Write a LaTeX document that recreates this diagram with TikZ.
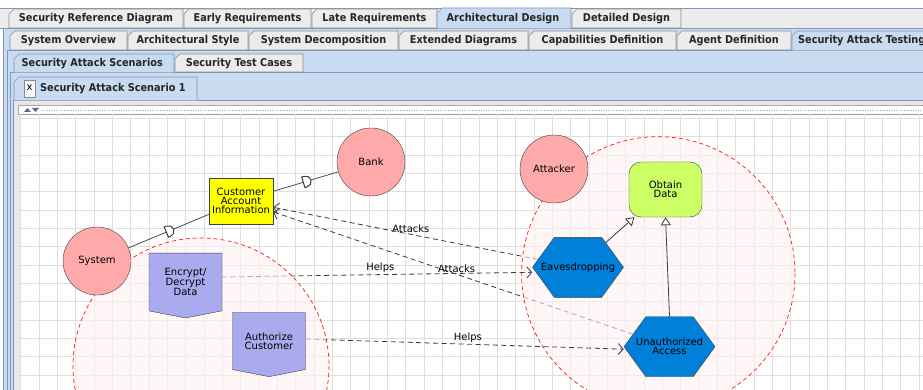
\documentclass[tikz,border=0pt]{standalone}
\usepackage{fontspec}
\setmainfont{DejaVu Sans}
\newfontfamily\tabfont{DejaVu Sans Condensed Bold}
\usetikzlibrary{arrows.meta,shapes.symbols,decorations.markings}

\definecolor{actorpink}{RGB}{255,170,170}
\definecolor{resyellow}{RGB}{255,255,0}
\definecolor{planpurple}{RGB}{170,170,238}
\definecolor{goalgreen}{RGB}{204,255,102}
\definecolor{attackblue}{RGB}{0,128,216}
\definecolor{panelblue}{RGB}{200,219,240}
\definecolor{panelline}{RGB}{128,150,188}
\definecolor{tabgrey}{RGB}{236,236,236}
\definecolor{framegrey}{RGB}{232,232,232}
\definecolor{gridgrey}{RGB}{222,222,222}
\definecolor{linkgrey}{RGB}{60,60,60}

\tikzset{
  tabedge/.style={draw=black!45, line width=0.6pt},
  tablabel/.style={font=\tabfont\fontsize{10.8}{12}\selectfont, text=black!85, text height=7.8pt, text depth=2pt, inner sep=0pt},
  panel/.style={draw=panelline, line width=0.6pt, fill=panelblue},
  gridline/.style={draw=gridgrey, line width=0.7pt},
  actor/.style={circle, draw=black!75, fill=actorpink, minimum size=68pt, inner sep=0pt},
  resource/.style={rectangle, draw=black!75, fill=resyellow, minimum width=64pt, minimum height=46pt, inner sep=1pt, align=center},
  plan/.style={signal, signal to=south, signal from=nowhere, signal pointer angle=158, draw=black!75, fill=planpurple, minimum width=73pt, minimum height=62pt, inner sep=1pt, align=center},
  goal/.style={rectangle, rounded corners=12pt, draw=black!75, fill=goalgreen, minimum width=73pt, minimum height=55pt, align=center},
  attack/.style={signal, signal to=west and east, signal pointer angle=108, draw=black!75, fill=attackblue, minimum width=91pt, minimum height=60pt, inner xsep=-14pt, inner ysep=1pt, align=center},
  boundary/.style={draw=red!90, line width=0.7pt, dash pattern=on 4pt off 3pt, fill=red!5, fill opacity=0.6},
  depend/.style={draw=linkgrey, line width=0.7pt, postaction={decorate},
    decoration={markings, mark=at position 0.5 with {\draw[fill=white, line width=1pt] (-2.5,-5.5) -- (0,-5.5) arc[start angle=-90, end angle=90, radius=5.5] -- (-2.5,5.5) -- cycle;}}},
  link/.style={draw=linkgrey, line width=0.8pt, dash pattern=on 5pt off 3.5pt, -{Straight Barb[length=5pt, width=11pt]}},
  isa/.style={draw=linkgrey, line width=0.8pt, -{Triangle[fill=white, length=8pt, width=10pt]}},
  linklabel/.style={above, inner sep=1.5pt, text=black}
}

\begin{document}
\begin{tikzpicture}[x=1pt, y=-1pt, font=\fontsize{10}{9}\selectfont]
  \useasboundingbox (0,0) rectangle (923,390);
  \clip (0,0) rectangle (923,390);
  \fill[white] (0,0) rectangle (923,390);
  \draw[fill=tabgrey, draw=panelline] (-5,8) rectangle (930,28);
  \draw[panel] (3,28) rectangle (930,395);
  \draw[panel] (7,50) rectangle (930,395);
  \draw[panel] (10,72) rectangle (930,395);
  \draw[draw=panelline, fill=framegrey] (13,100) rectangle (930,395);
  \draw[draw=black!35, fill=white] (18,105) rectangle (930,114);
  \draw[black!35, dotted] (42,110) -- (930,110);
  \fill[panelline!70!black] (24,112) -- (27.5,108) -- (31,112) -- cycle;
  \fill[panelline!70!black] (32,108) -- (39,108) -- (35.5,112) -- cycle;
  \draw[draw=black!40, fill=white] (20,114) rectangle (930,395);

  % tabs
  \foreach \xa/\xb/\yt/\yb/\txt in {9/183/9/28/Security Reference Diagram, 184/311/9/28/Early Requirements,
      312/437/9/28/Late Requirements, 572/681/9/28/Detailed Design,
      10/127/31/50/System Overview, 128/248/31/50/Architectural Style, 249/398/31/50/System Decomposition,
      399/528/31/50/Extended Diagrams, 529/676/31/50/Capabilities Definition, 677/791/31/50/Agent Definition,
      175/303/54/72/Security Test Cases} {
    \draw[tabedge, fill=tabgrey] (\xa,\yb) -- (\xa,\yt+5) -- (\xa+5,\yt) -- (\xb,\yt) -- (\xb,\yb) -- cycle;
    \node[tablabel] at ({(\xa+\xb)/2},{(\yt+\yb)/2+0.5}) {\txt};
  }
  \foreach \xa/\xb/\yt/\yb/\tx/\txt in {437/571/8/28/446.5/Architectural Design, 792/935/31/50/798/Security Attack Testing,
      14/174/54/72/21.5/Security Attack Scenarios, 14/197/77/100/40/Security Attack Scenario 1} {
    \fill[panelblue] (\xa,\yb+0.5) -- (\xa,\yt+5) -- (\xa+5,\yt) -- (\xb,\yt) -- (\xb,\yb+0.5) -- cycle;
    \draw[draw=panelline, line width=0.6pt] (\xa,\yb) -- (\xa,\yt+5) -- (\xa+5,\yt) -- (\xb,\yt) -- (\xb,\yb);
    \node[tablabel, anchor=west] at (\tx,{(\yt+\yb)/2+0.5}) {\txt};
  }
  \draw[draw=black!45, fill=white!80!panelblue] (24,80) rectangle (35,97);
  \node[font=\fontsize{10}{12}\selectfont, inner sep=0pt] (closebox) at (29.5,88) {x};

  % canvas grid
  \foreach \i in {0,...,49}
    \draw[gridline] ({20.7+18.33*\i},114) -- ({20.7+18.33*\i},395);
  \foreach \j in {0,...,15}
    \draw[gridline] (20,{118.3+18.33*\j}) -- (930,{118.3+18.33*\j});

  % nodes placed first, drawn later
  \path (97,261) node[actor, opacity=0] (system) {System};
  \path (371,162) node[actor, opacity=0] (bank) {Bank};
  \path (241,201) node[resource, opacity=0] (cai) {Customer\\Account\\Information};
  \path (185.5,282) node[plan, opacity=0] (encrypt) {Encrypt/\\Decrypt\\Data};
  \path (269,341) node[plan, opacity=0] (authorize) {Authorize\\Customer};
  \path (554,169) node[actor, opacity=0] (attacker) {Attacker};
  \path (665.5,189.5) node[goal, opacity=0] (obtain) {Obtain\\Data};
  \path (578,267.3) node[attack, opacity=0] (eaves) {Eavesdropping};
  \path (669.5,346.7) node[attack, opacity=0] (unauth) {Unauthorized\\Access};

  \draw[link] (eaves) -- (cai) node[linklabel, pos=0.48] {Attacks};
  \draw[link] (unauth) -- (cai) node[linklabel, pos=0.49] {Attacks};
  \draw[boundary] (658.3,273.4) circle[radius=136.7];
  \draw[link] ([yshift=5pt]encrypt.east) -- ([yshift=-5pt]eaves.west) node[linklabel, pos=0.51] {Helps};
  \draw[link] ([yshift=2pt]authorize.east) -- ([yshift=-2.5pt]unauth.west) node[linklabel, pos=0.51] {Helps};
  \draw[boundary] (201,366) circle[radius=128];

  \draw[depend] (system) -- (cai);
  \draw[depend] (cai) -- (bank);
  \draw[isa] (eaves) -- (obtain);
  \draw[isa] (unauth.north) -- (obtain.south);

  \node[actor] at (system) {System};
  \node[actor] at (bank) {Bank};
  \node[resource] at (cai) {Customer\\Account\\Information};
  \node[plan] at (encrypt) {Encrypt/\\Decrypt\\Data};
  \node[plan] at (authorize) {Authorize\\Customer};
  \node[actor] at (attacker) {Attacker};
  \node[goal] at (obtain) {Obtain\\Data};
  \node[attack] at (eaves) {Eavesdropping};
  \node[attack] at (unauth) {Unauthorized\\Access};
\end{tikzpicture}
\end{document}
